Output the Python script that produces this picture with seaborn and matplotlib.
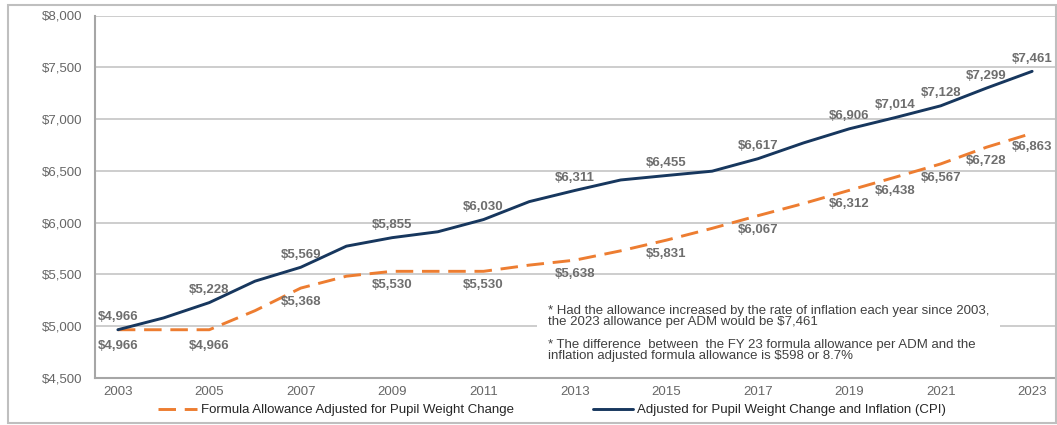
import matplotlib
matplotlib.use("Agg")
import matplotlib.pyplot as plt
from matplotlib.patches import Rectangle
from matplotlib.ticker import FuncFormatter, MultipleLocator
import pandas as pd
import seaborn as sns

years = list(range(2003, 2024))
formula = [4966, 4966, 4966, 5150, 5368, 5483, 5530, 5530, 5530, 5590, 5638,
           5728, 5831, 5945, 6067, 6185, 6312, 6438, 6567, 6728, 6863]
cpi = [4966, 5080, 5228, 5435, 5569, 5773, 5855, 5912, 6030, 6203, 6311,
       6412, 6455, 6497, 6617, 6770, 6906, 7014, 7128, 7299, 7461]
labeled_years = [2003, 2005, 2007, 2009, 2011, 2013, 2015, 2017, 2019, 2020, 2021, 2022, 2023]
year_ticks = list(range(2003, 2024, 2))

s_formula = "Formula Allowance Adjusted for Pupil Weight Change"
s_cpi = "Adjusted for Pupil Weight Change and Inflation (CPI)"
note = ("* Had the allowance increased by the rate of inflation each year since 2003,\n"
        "the 2023 allowance per ADM would be $7,461\n\n"
        "* The difference  between  the FY 23 formula allowance per ADM and the\n"
        "inflation adjusted formula allowance is $598 or 8.7%")

df = pd.concat([
    pd.DataFrame({"year": years, "value": formula, "series": s_formula}),
    pd.DataFrame({"year": years, "value": cpi, "series": s_cpi}),
])

sns.set_theme(style="white")
plt.rcParams["font.family"] = ["Liberation Sans", "DejaVu Sans"]

orange = "#ED7D31"
navy = "#17375E"
grey_txt = "#666666"

fig = plt.figure(figsize=(10.57, 4.25), dpi=100)
ax = fig.add_axes([95 / 1057, 1 - 378 / 425, 960 / 1057, (378 - 15.5) / 425])

sns.lineplot(data=df, x="year", y="value", hue="series", style="series",
             hue_order=[s_formula, s_cpi], style_order=[s_formula, s_cpi],
             palette={s_formula: orange, s_cpi: navy},
             dashes={s_formula: (6, 3), s_cpi: ""},
             linewidth=2.1, ax=ax)

ax.set_xlim(2002.5, 2023.5)
ax.set_ylim(4500, 8000)
ax.yaxis.set_major_locator(MultipleLocator(500))
ax.yaxis.set_major_formatter(FuncFormatter(lambda v, p: f"${v:,.0f}"))
ax.set_xticks(year_ticks)
ax.set_xticks([y - 0.5 for y in years] + [years[-1] + 0.5], minor=True)
ax.tick_params(axis="x", which="major", length=0, labelsize=9.5, labelcolor=grey_txt, pad=6)
ax.tick_params(axis="x", which="minor", length=4, color="#a6a6a6", width=1)
ax.tick_params(axis="y", length=5, color="#a6a6a6", width=1, labelsize=9.5,
               labelcolor=grey_txt, pad=4)
ax.set_xlabel("")
ax.set_ylabel("")
ax.grid(axis="y", color="#c0c0c0", linewidth=1.1)
ax.set_axisbelow(True)
for side in ["top", "right"]:
    ax.spines[side].set_visible(False)
for side in ["left", "bottom"]:
    ax.spines[side].set_color("#a6a6a6")
    ax.spines[side].set_linewidth(1.5)

for yr, fv, cv in zip(years, formula, cpi):
    if yr in labeled_years:
        ax.annotate(f"${cv:,}", (yr, cv), xytext=(0, 9), textcoords="offset points",
                    ha="center", va="center", fontsize=9.5, fontweight="bold", color="#6e6e6e")
        ax.annotate(f"${fv:,}", (yr, fv), xytext=(0, -10 if fv > formula[0] else -12),
                    textcoords="offset points",
                    ha="center", va="center", fontsize=9.5, fontweight="bold", color="#6e6e6e")

sns.move_legend(ax, "center", bbox_to_anchor=(0.522, 0.035), bbox_transform=fig.transFigure,
                ncol=2, frameon=False, title=None, fontsize=9.5, handlelength=3,
                columnspacing=6, handletextpad=0.3)

fig.text(548 / 1057, 1 - 305 / 425, note, ha="left", va="top", fontsize=9.5,
         color="#404040", linespacing=0.92,
         bbox=dict(facecolor="white", edgecolor="none", pad=8))

fig.patches.append(Rectangle((8 / 1057, 2 / 425), 1048 / 1057, 418 / 425,
                             transform=fig.transFigure, fill=False,
                             edgecolor="#bfbfbf", linewidth=1.5))

fig.savefig("out.png", dpi=100)
